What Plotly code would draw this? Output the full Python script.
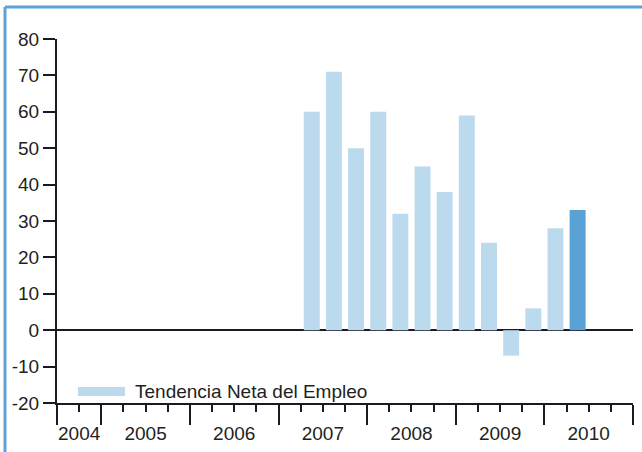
import plotly.graph_objects as go

# ---- data ----
quarters = ["2007 T2", "2007 T3", "2007 T4", "2008 T1", "2008 T2", "2008 T3", "2008 T4",
            "2009 T1", "2009 T2", "2009 T3", "2009 T4", "2010 T1", "2010 T2"]
values = [60, 71, 50, 60, 32, 45, 38, 59, 24, -7, 6, 28, 33]
years = ["2004", "2005", "2006", "2007", "2008", "2009", "2010"]
y_ticks = [80, 70, 60, 50, 40, 30, 20, 10, 0, -10, -20]
y_tick_labels = ["80", "70", "60", "50", "40", "30", "20", "10", "0", "-10", "-20"]
legend_label = "Tendencia Neta del Empleo"

# ---- layout helpers ----
first_year, first_q = 2004, 3
last_year = 2010
n_slots = (last_year - first_year) * 4 + 4 - (first_q - 1)  # 26


def slot(label):
    y, q = label.split(" T")
    return (int(y) - first_year) * 4 + int(q) - first_q


x = [slot(q) for q in quarters]

LIGHT = "#bcdaee"
DARK = "#5aa1d5"
AX = "#1a1a26"
TXT = "#231f20"
FRAME = "#5ba3d8"
FONT = "Liberation Sans, Arial, sans-serif"
FS = 19

colors = [LIGHT] * (len(values) - 1) + [DARK]

# year spans in slot coordinates
year_bounds = []
year_centers = []
for yr in years:
    yi = int(yr)
    s0 = max(0, (yi - first_year) * 4 + 1 - first_q)
    s1 = min(n_slots - 1, (yi - first_year) * 4 + 4 - first_q)
    year_bounds.append(s0 - 0.5)
    year_centers.append((s0 + s1) / 2)
year_bounds.append(n_slots - 0.5)
minor_vals = [i - 0.5 for i in range(n_slots + 1) if (i - 0.5) not in year_bounds]

fig = go.Figure()
fig.add_trace(go.Bar(x=x, y=values, marker=dict(color=colors, line=dict(width=0)),
                     width=0.72, showlegend=False, hoverinfo="skip"))
fig.add_trace(go.Scatter(x=[], y=[], xaxis="x2", showlegend=False))

fig.update_layout(
    width=642, height=452,
    margin=dict(l=57, r=9, t=39, b=49, autoexpand=False),
    paper_bgcolor="white", plot_bgcolor="white",
    font=dict(family=FONT, size=FS, color=TXT),
    xaxis=dict(
        range=[-0.5, n_slots - 0.5], showgrid=False, zeroline=False, automargin=False,
        showline=True, linecolor=AX, linewidth=2,
        tickmode="array", tickvals=year_bounds, ticks="outside", ticklen=20,
        tickwidth=2, tickcolor=AX, showticklabels=False,
        minor=dict(tickmode="array", tickvals=minor_vals, ticks="outside",
                   ticklen=7, tickwidth=2, tickcolor=AX, showgrid=False),
    ),
    xaxis2=dict(
        range=[-0.5, n_slots - 0.5], overlaying="x", anchor="y", side="bottom",
        showgrid=False, zeroline=False, showline=False, automargin=False,
        tickmode="array", tickvals=year_centers, ticktext=years,
        ticks="outside", ticklen=13, tickcolor="rgba(0,0,0,0)",
        tickfont=dict(family=FONT, size=FS, color=TXT),
    ),
    yaxis=dict(
        range=[-20, 80], showgrid=False, automargin=False,
        zeroline=True, zerolinecolor=AX, zerolinewidth=2,
        showline=True, linecolor=AX, linewidth=2,
        tickmode="array", tickvals=y_ticks, ticktext=y_tick_labels,
        ticks="outside", ticklen=12, tickwidth=2, tickcolor=AX,
        tickfont=dict(family=FONT, size=FS, color=TXT),
    ),
    shapes=[
        # frame (top and left)
        dict(type="line", xref="paper", yref="paper", x0=-0.0903, x1=1.02,
             y0=1.0879, y1=1.0879, line=dict(color=FRAME, width=3)),
        dict(type="line", xref="paper", yref="paper", x0=-0.0903, x1=-0.0903,
             y0=1.0879, y1=-0.14, line=dict(color=FRAME, width=3)),
        # legend swatch
        dict(type="rect", xref="paper", yref="paper", x0=0.0365, x1=0.118,
             y0=0.0192, y1=0.044, fillcolor=LIGHT, line=dict(width=0)),
    ],
    annotations=[
        dict(text=legend_label, xref="paper", yref="paper", x=0.132, y=0.032,
             xanchor="left", yanchor="middle", showarrow=False,
             font=dict(family=FONT, size=FS, color=TXT)),
    ],
)

fig.write_html("out.html", config={"displayModeBar": False},
               post_script="document.body.style.margin='0px';")
